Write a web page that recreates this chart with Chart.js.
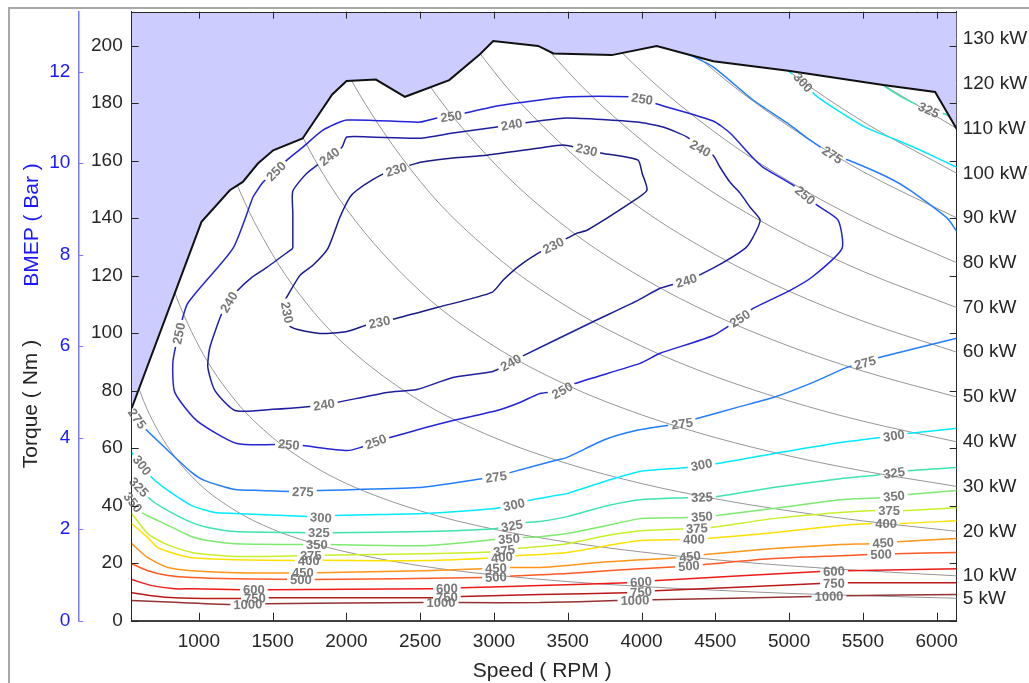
<!DOCTYPE html>
<html>
<head>
<meta charset="utf-8">
<script src="https://cdn.jsdelivr.net/npm/chart.js@4.4.0/dist/chart.umd.min.js"></script>
<style>
  html, body { margin: 0; padding: 0; background: #fff; }
  #wrap { position: relative; width: 1029px; height: 683px; }
</style>
</head>
<body>
<div id="wrap"><canvas id="mycanvas" width="1029" height="683"></canvas></div>
<script>
// axes
var speedMin = 545, speedMax = 6136;
var torqueMax = 211.8, bmepMax = 13.31;
var speedTicks = [1000, 1500, 2000, 2500, 3000, 3500, 4000, 4500, 5000, 5500, 6000];
var torqueTicks = [0, 20, 40, 60, 80, 100, 120, 140, 160, 180, 200];
var bmepTicks = [0, 2, 4, 6, 8, 10, 12];

// full load curve (rpm, Nm)
var fullLoad = [[545,73.9],[1018,138.7],[1210,149.7],[1298,152.6],[1400,159],[1504,163.6],[1703,167.7],[1904,183],[2001,187.7],[2200,188.2],[2397,182.2],[2697,188],[2905,197],[2995,201.6],[3300,199.9],[3403,197.3],[3798,196.7],[4103,199.9],[4487,194.6],[4995,191.3],[5639,186.3],[5990,183.9],[6136,171]];

// constant power lines
var powerKW = [5, 10, 20, 30, 40, 50, 60, 70, 80, 90, 100, 110, 120, 130];
var powerRpm = [550, 650, 800, 1000, 1250, 1500, 1750, 2000, 2500, 3000, 3500, 4000, 4500, 5000, 5500, 6136];
var powerTorque = [
  [86.8,73.5,59.7,47.7,38.2,31.8,27.3,23.9,19.1,15.9,13.6,11.9,10.6,9.5,8.7,7.8],
  [173.6,146.9,119.4,95.5,76.4,63.7,54.6,47.7,38.2,31.8,27.3,23.9,21.2,19.1,17.4,15.6],
  [null,293.8,238.7,191.0,152.8,127.3,109.1,95.5,76.4,63.7,54.6,47.7,42.4,38.2,34.7,31.1],
  [null,null,null,286.5,229.2,191.0,163.7,143.2,114.6,95.5,81.8,71.6,63.7,57.3,52.1,46.7],
  [null,null,null,null,null,254.6,218.3,191.0,152.8,127.3,109.1,95.5,84.9,76.4,69.4,62.2],
  [null,null,null,null,null,null,272.9,238.7,191.0,159.2,136.4,119.4,106.1,95.5,86.8,77.8],
  [null,null,null,null,null,null,null,286.5,229.2,191.0,163.7,143.2,127.3,114.6,104.2,93.4],
  [null,null,null,null,null,null,null,null,267.4,222.8,191.0,167.1,148.5,133.7,121.5,108.9],
  [null,null,null,null,null,null,null,null,305.6,254.6,218.2,191.0,169.8,152.8,138.9,124.5],
  [null,null,null,null,null,null,null,null,null,286.5,245.5,214.9,191.0,171.9,156.2,140.1],
  [null,null,null,null,null,null,null,null,null,null,272.8,238.7,212.2,191.0,173.6,155.6],
  [null,null,null,null,null,null,null,null,null,null,null,262.6,233.4,210.1,191.0,171.2],
  [null,null,null,null,null,null,null,null,null,null,null,null,254.6,229.2,208.3,186.8],
  [null,null,null,null,null,null,null,null,null,null,null,null,null,248.3,225.7,202.3]
];

// BSFC contours (rpm, Nm)
var c230 = [[1583,111.4],[1685,120.1],[1773,123.6],[1875,129.5],[1956,140.3],[2024,147.3],[2071,149.7],[2173,153.2],[2275,156.0],[2431,158.4],[2512,159.5],[2722,160.9],[2953,161.9],[3312,164.4],[3468,165.4],[3549,164.7],[3732,162.6],[3976,160.2],[4004,155.6],[4037,149.7],[3922,145.2],[3631,135.8],[3563,134.8],[3448,131.7],[3332,128.8],[3176,123.6],[3061,118.4],[2987,114.2],[2620,109.0],[2342,105.2],[2153,103.1],[2003,100.6],[1820,99.9],[1617,102.4],[1583,111.4]];
var c240 = [[1637,129.5],[1637,141.7],[1637,149.4],[1732,155.6],[1888,161.6],[1970,164.7],[2003,168.2],[2159,168.2],[2498,167.8],[2722,169.6],[3020,171.7],[3129,172.7],[3244,173.4],[3495,174.8],[3970,173.4],[4146,171.7],[4309,168.2],[4397,164.4],[4485,161.9],[4532,157.7],[4600,152.5],[4668,148.7],[4736,143.8],[4804,139.3],[4756,133.4],[4702,129.5],[4485,122.6],[4309,118.4],[4126,115.6],[3976,111.4],[3664,103.8],[3176,91.6],[3088,89.1],[2993,86.7],[2722,84.6],[2478,80.4],[2275,79.4],[1936,75.9],[1848,75.2],[1753,74.5],[1502,73.5],[1244,73.1],[1108,80.1],[1061,88.1],[1075,95.1],[1156,106.9],[1210,111.4],[1264,114.9],[1359,119.4],[1461,122.9],[1637,129.5]];
var c250 = [[1366,147.3],[1434,152.5],[1515,156.0],[1597,160.2],[1705,164.7],[1841,170.6],[2003,174.1],[2498,173.4],[2614,174.8],[2715,175.5],[3020,179.0],[3312,181.1],[3515,182.2],[3922,182.2],[4010,181.5],[4105,179.7],[4485,173.8],[4600,169.6],[4756,160.9],[4824,157.7],[5027,151.5],[5109,148.0],[5190,144.5],[5332,139.3],[5359,129.5],[5163,119.8],[5007,114.9],[4756,108.6],[4668,105.2],[4485,99.2],[4126,93.0],[3990,89.5],[3549,82.5],[3461,80.1],[3312,79.0],[3176,75.9],[3020,73.1],[2722,69.6],[2519,66.9],[2295,63.7],[2200,62.3],[2092,60.2],[2003,59.2],[1705,60.9],[1610,61.3],[1258,61.6],[986,69.6],[837,79.4],[824,89.8],[864,99.9],[925,110.4],[1231,129.5],[1366,147.3]];
var c275a = [[4300,197.5],[4485,192.6],[4756,181.1],[4987,173.1],[5143,167.1],[5299,161.9],[5400,160.2],[5665,154.3],[5821,149.7],[6072,140.0],[6136,135.4]];
var c275b = [[545,73.1],[593,69.6],[647,66.2],[790,59.2],[953,51.5],[1041,48.7],[1244,45.6],[1414,45.3],[1705,44.9],[1807,45.3],[2485,46.3],[2919,49.4],[3014,50.1],[3109,51.5],[3414,55.7],[3495,56.8],[3753,63.0],[3970,66.2],[4173,67.9],[4275,68.6],[4376,70.3],[4648,74.2],[4892,77.6],[5163,82.9],[5393,88.1],[5515,89.8],[5617,91.6],[5888,95.1],[6136,98.2]];
var c300a = [[4993,191.2],[5095,187.3],[5177,182.8],[5326,177.6],[5529,171.3],[5733,167.1],[5888,163.7],[6136,157.7]];
var c300b = [[545,58.5],[607,54.7],[681,49.8],[790,45.3],[953,40.0],[1108,37.6],[1244,37.3],[1739,36.2],[1827,35.9],[1922,36.6],[2532,37.3],[3007,39.0],[3136,40.4],[3231,41.8],[3414,43.5],[3495,44.2],[3766,48.7],[3990,51.9],[4309,53.3],[4410,54.3],[4512,54.7],[4892,58.1],[5346,62.0],[5617,63.7],[5712,64.4],[5800,65.1],[6136,66.9]];
var c325a = [[5644,185.9],[5773,181.8],[5949,177.6],[6058,176.2],[6092,175.1]];
var c325b = [[545,49.4],[586,47.0],[681,41.8],[790,38.3],[953,34.1],[1061,32.4],[1244,31.0],[1739,30.6],[1902,30.6],[2532,31.0],[3007,32.0],[3129,33.1],[3210,34.1],[3312,34.5],[3495,36.2],[3766,40.0],[3990,42.1],[4309,42.8],[4512,43.2],[4892,46.3],[5346,49.4],[5617,50.8],[5821,52.2],[6136,53.3]];
var c350 = [[545,41.8],[573,40.0],[614,37.6],[722,34.8],[837,32.0],[953,29.2],[1061,27.9],[1244,26.8],[1732,26.5],[1875,26.5],[2532,26.1],[3007,28.2],[3197,28.9],[3312,29.2],[3495,30.3],[3766,33.1],[3990,35.5],[4309,35.9],[4512,36.6],[4892,39.0],[5346,42.1],[5617,42.8],[5807,43.9],[6136,45.3]];
var c375 = [[545,37.3],[654,30.3],[769,26.8],[953,23.7],[1061,23.0],[1244,22.3],[1685,22.6],[1841,22.8],[2532,23.3],[3007,24.0],[3156,25.1],[3312,25.8],[3495,26.8],[3766,29.6],[3990,31.3],[4309,32.0],[4465,32.4],[4892,35.5],[5346,37.6],[5597,38.3],[5773,38.3],[6136,39.3]];
var c400 = [[545,33.8],[654,28.9],[722,25.4],[837,23.3],[953,21.9],[1244,21.2],[1671,20.9],[1834,21.0],[2532,20.9],[3007,21.9],[3142,22.6],[3312,23.0],[3495,23.7],[3766,26.1],[3990,27.9],[4261,28.2],[4444,28.6],[4892,30.6],[5346,33.1],[5570,33.8],[5753,33.8],[6136,34.8]];
var c450 = [[545,26.8],[654,21.9],[790,18.5],[953,17.4],[1244,16.7],[1800,16.7],[2532,17.4],[2919,18.1],[3122,18.5],[3312,18.5],[3495,19.2],[3766,20.5],[3990,21.2],[4241,21.9],[4431,23.0],[4892,25.1],[5346,26.5],[5549,26.8],[5739,27.5],[6136,28.6]];
var c500 = [[545,19.8],[654,17.4],[790,15.7],[953,15.0],[1244,14.6],[1786,14.3],[2919,15.0],[3095,15.5],[3312,16.0],[3495,16.4],[3766,17.4],[3990,18.1],[4241,18.8],[4417,19.5],[4892,21.6],[5346,22.6],[5536,23.0],[5719,23.3],[6136,23.7]];
var c600 = [[545,14.3],[681,12.2],[837,11.1],[953,11.1],[1292,10.8],[1468,10.8],[2580,11.1],[2783,11.5],[3312,12.2],[3902,13.2],[4078,13.9],[5210,17.1],[5400,17.4],[6136,18.1]];
var c750 = [[545,9.75],[681,8.7],[837,8.0],[1292,7.7],[1468,8.0],[2580,8.0],[2783,8.4],[3312,9.1],[3902,9.75],[4092,10.4],[5210,12.9],[5400,13.2],[6136,13.2]];
var c1000 = [[545,7.0],[871,6.3],[1244,5.6],[1447,5.9],[2532,6.3],[2756,6.3],[3312,6.3],[3834,7.0],[4078,7.3],[5163,8.4],[5380,8.7],[6136,9.1]];

// contour label anchors (rpm, Nm)
var lab230 = [[2342,156.2],[3627,163.5],[3407,130.1],[2227,103.1],[1597,107.2]];
var lab240 = [[1888,161.2],[3122,172.0],[4397,164.2],[4302,118.6],[3115,89.7],[1848,75.4],[1217,110.4]];
var lab250 = [[1529,156.0],[2709,175.5],[4004,181.4],[5109,148.0],[4668,105.0],[3461,80.3],[2200,62.2],[1610,61.3],[864,99.9]];
var lab275 = [[5292,161.9],[593,70.7],[1705,44.6],[3014,50.1],[4275,68.4],[5515,89.7]];
var lab300 = [[5095,187.2],[614,54.0],[1827,35.9],[3136,40.4],[4410,53.3],[5712,63.7]];
var lab325 = [[5949,177.8],[586,46.1],[1814,30.6],[3122,33.1],[4410,42.8],[5712,51.2]];
var lab350 = [[559,41.4],[1800,26.5],[3102,28.6],[4410,35.9],[5712,42.8]];
var lab375 = [[1759,23.0],[3068,24.7],[4376,31.3],[5678,37.4]];
var lab400 = [[1746,20.5],[3054,21.9],[4356,27.5],[5658,33.1]];
var lab450 = [[1705,16.7],[3014,18.1],[4329,21.9],[5638,27.0]];
var lab500 = [[1692,14.2],[3014,14.8],[4322,18.5],[5624,22.6]];
var lab600 = [[1373,10.4],[2681,11.1],[3997,13.1],[5305,16.5]];
var lab750 = [[1380,7.8],[2681,8.4],[3997,9.6],[5305,11.8]];
var lab1000 = [[1332,5.6],[2641,5.9],[3956,6.6],[5271,8.0]];

var contourPieces = [
  [230, c230], [240, c240], [250, c250], [275, c275a], [275, c275b],
  [300, c300a], [300, c300b], [325, c325a], [325, c325b], [350, c350],
  [375, c375], [400, c400], [450, c450], [500, c500], [600, c600], [750, c750], [1000, c1000]
];
var labelsByLevel = {230: lab230, 240: lab240, 250: lab250, 275: lab275, 300: lab300, 325: lab325, 350: lab350,
  375: lab375, 400: lab400, 450: lab450, 500: lab500, 600: lab600, 750: lab750, 1000: lab1000};
var contourColor = {230: 'rgb(25,25,135)', 240: 'rgb(30,30,160)', 250: 'rgb(35,35,215)', 275: 'rgb(35,125,255)',
  300: 'rgb(0,235,255)', 325: 'rgb(60,230,170)', 350: 'rgb(125,235,110)', 375: 'rgb(200,240,40)',
  400: 'rgb(255,225,0)', 450: 'rgb(255,150,25)', 500: 'rgb(255,90,35)', 600: 'rgb(240,25,25)',
  750: 'rgb(185,25,25)', 1000: 'rgb(150,50,50)'};

var FONT = '"Liberation Sans", Arial, Helvetica, sans-serif';
var labelFont = 'bold 13px ' + FONT;

function xy(pairs) {
  return pairs.map(function(p) { return {x: p[0], y: p[1]}; });
}

// where each contour label sits (snapped onto its line) and its angle
function levelLabels(chart, level) {
  var xs = chart.scales.x, ys = chart.scales.y, lines = [];
  chart.data.datasets.forEach(function(ds) {
    if (ds.level === level) {
      lines.push(ds.data.map(function(p) { return [xs.getPixelForValue(p.x), ys.getPixelForValue(p.y)]; }));
    }
  });
  var ctx = chart.ctx;
  ctx.save();
  ctx.font = labelFont;
  var w = ctx.measureText(String(level)).width;
  ctx.restore();
  return labelsByLevel[level].map(function(a) {
    var px = xs.getPixelForValue(a[0]), py = ys.getPixelForValue(a[1]);
    var best = Infinity, out = {x: px, y: py, a: 0};
    lines.forEach(function(l) {
      for (var i = 0; i < l.length - 1; i++) {
        var x1 = l[i][0], y1 = l[i][1], dx = l[i + 1][0] - x1, dy = l[i + 1][1] - y1;
        var L = dx * dx + dy * dy;
        var t = L ? ((px - x1) * dx + (py - y1) * dy) / L : 0;
        t = Math.max(0, Math.min(1, t));
        var qx = x1 + t * dx, qy = y1 + t * dy;
        var d = (qx - px) * (qx - px) + (qy - py) * (qy - py);
        if (d < best) { best = d; out = {x: qx, y: qy, a: Math.atan2(dy, dx)}; }
      }
    });
    if (out.a > Math.PI / 2) out.a -= Math.PI;
    if (out.a < -Math.PI / 2) out.a += Math.PI;
    out.w = w;
    return out;
  });
}

var contourLabelPlugin = {
  id: 'contourLabels',
  beforeDatasetDraw: function(chart, args) {
    var ds = chart.data.datasets[args.index];
    if (!ds.level) return;
    var ctx = chart.ctx;
    var labs = levelLabels(chart, ds.level);
    ctx.save();
    ctx.beginPath();
    ctx.rect(0, 0, chart.width, chart.height);
    labs.forEach(function(b) {
      var hw = b.w / 2 + 3, hh = 6.5, cs = Math.cos(b.a), sn = Math.sin(b.a);
      var pts = [[-hw, -hh], [hw, -hh], [hw, hh], [-hw, hh]];
      pts.forEach(function(p, i) {
        var X = b.x + p[0] * cs - p[1] * sn, Y = b.y + p[0] * sn + p[1] * cs;
        if (i === 0) ctx.moveTo(X, Y); else ctx.lineTo(X, Y);
      });
      ctx.closePath();
    });
    ctx.clip('evenodd');
  },
  afterDatasetDraw: function(chart, args) {
    var ds = chart.data.datasets[args.index];
    if (ds.level) chart.ctx.restore();
  },
  afterDatasetsDraw: function(chart) {
    var ctx = chart.ctx;
    ctx.save();
    ctx.font = labelFont;
    ctx.fillStyle = 'rgb(120,120,120)';
    ctx.textAlign = 'center';
    ctx.textBaseline = 'middle';
    Object.keys(labelsByLevel).forEach(function(k) {
      var level = Number(k);
      levelLabels(chart, level).forEach(function(b) {
        ctx.save();
        ctx.translate(b.x, b.y);
        ctx.rotate(b.a);
        ctx.fillText(String(level), 0, 1);
        ctx.restore();
      });
    });
    ctx.restore();
  }
};

var framePlugin = {
  id: 'frame',
  beforeDraw: function(chart) {
    var c = chart.ctx;
    c.save();
    c.fillStyle = '#fff';
    c.fillRect(0, 0, chart.width, chart.height);
    c.fillStyle = '#a8a8a8';
    c.fillRect(8, 7, chart.width - 8, 2);
    c.fillRect(8, 7, 2, chart.height - 7);
    c.restore();
  },
  afterDraw: function(chart) {
    var c = chart.ctx, a = chart.chartArea;
    var xs = chart.scales.x, ys = chart.scales.y, bs = chart.scales.bmep;
    c.save();
    c.strokeStyle = '#262626';
    c.lineWidth = 1;
    c.beginPath();
    c.moveTo(a.left, Math.round(a.top) + 0.5);
    c.lineTo(a.right, Math.round(a.top) + 0.5);
    speedTicks.forEach(function(v) {
      var x = Math.round(xs.getPixelForValue(v)) + 0.5;
      c.moveTo(x, a.top); c.lineTo(x, a.top + 7);
      c.moveTo(x, a.bottom); c.lineTo(x, a.bottom - 8);
    });
    torqueTicks.forEach(function(v) {
      var y = Math.round(ys.getPixelForValue(v)) + 0.5;
      c.moveTo(a.left, y); c.lineTo(a.left + 7, y);
      c.moveTo(a.right, y); c.lineTo(a.right - 7, y);
    });
    c.stroke();
    c.strokeStyle = 'rgb(120,120,255)';
    c.beginPath();
    bmepTicks.forEach(function(v) {
      var y = Math.round(bs.getPixelForValue(v)) + 0.5;
      c.moveTo(bs.right, y); c.lineTo(bs.right + 5, y);
    });
    c.stroke();

    c.font = '21px ' + FONT;
    c.textAlign = 'center';
    c.textBaseline = 'middle';
    c.fillStyle = '#262626';
    c.fillText('Speed ( RPM )', (a.left + a.right) / 2 - 2, a.bottom + 51);
    c.save();
    c.translate(31, 404);
    c.rotate(-Math.PI / 2);
    c.fillText('Torque ( Nm )', 0, 0);
    c.restore();
    c.save();
    c.fillStyle = 'rgb(25,25,255)';
    c.translate(32, 225);
    c.rotate(-Math.PI / 2);
    c.fillText('BMEP ( Bar )', 0, 0);
    c.restore();
    c.restore();
  }
};

var datasets = [];
datasets.push({
  label: 'full load',
  data: xy(fullLoad),
  showLine: true,
  borderColor: '#111',
  borderWidth: 2,
  backgroundColor: 'rgb(204,204,255)',
  fill: 'end',
  pointRadius: 0,
  tension: 0
});
contourPieces.forEach(function(p) {
  datasets.push({
    label: String(p[0]),
    level: p[0],
    data: xy(p[1]),
    showLine: true,
    borderColor: contourColor[p[0]],
    borderWidth: 1.5,
    pointRadius: 0,
    fill: false,
    tension: 0.2
  });
});
powerKW.forEach(function(kw, i) {
  var pts = [];
  powerRpm.forEach(function(n, j) {
    if (powerTorque[i][j] !== null) pts.push({x: n, y: powerTorque[i][j]});
  });
  datasets.push({
    label: kw + ' kW',
    data: pts,
    showLine: true,
    borderColor: 'rgb(150,150,150)',
    borderWidth: 1,
    pointRadius: 0,
    fill: false,
    cubicInterpolationMode: 'monotone'
  });
});

function lastValue(row) { return row[row.length - 1]; }

// keep label overhang from pushing the plot area around
function noPad(s) {
  s.paddingTop = 0; s.paddingBottom = 0; s.paddingLeft = 0; s.paddingRight = 0;
}

var tickFont = {size: 19, family: FONT};

var ctx = document.getElementById('mycanvas');
var chart = new Chart(ctx, {
  type: 'scatter',
  data: {datasets: datasets},
  plugins: [contourLabelPlugin, framePlugin],
  options: {
    responsive: false,
    animation: false,
    devicePixelRatio: 1,
    layout: {padding: {top: 11.7, left: 0, right: 0, bottom: 0}},
    plugins: {legend: {display: false}, tooltip: {enabled: false}},
    scales: {
      x: {
        type: 'linear', position: 'bottom', z: 1, min: speedMin, max: speedMax,
        afterBuildTicks: function(s) { s.ticks = speedTicks.map(function(v) { return {value: v}; }); },
        afterFit: function(s) { s.height = 62.3; noPad(s); },
        grid: {display: false, drawTicks: false},
        border: {display: true, color: '#404040', width: 2},
        ticks: {padding: 10, maxRotation: 0, autoSkip: false, color: '#262626', font: tickFont,
          callback: function(v) { return String(v); }}
      },
      y: {
        type: 'linear', position: 'left', weight: 0, z: 1, min: 0, max: torqueMax,
        afterBuildTicks: function(s) { s.ticks = torqueTicks.map(function(v) { return {value: v}; }); },
        afterFit: function(s) { s.width = 53.4; noPad(s); },
        grid: {display: false, drawTicks: false},
        border: {display: true, color: '#262626', width: 1},
        ticks: {padding: 9, autoSkip: false, color: '#262626', font: tickFont,
          callback: function(v) { return String(v); }}
      },
      bmep: {
        type: 'linear', position: 'left', weight: 1, z: 1, min: 0, max: bmepMax,
        afterBuildTicks: function(s) { s.ticks = bmepTicks.map(function(v) { return {value: v}; }); },
        afterFit: function(s) { s.width = 78.3; noPad(s); },
        grid: {display: false, drawTicks: false},
        border: {display: true, color: 'rgb(120,120,255)', width: 1.5},
        ticks: {padding: 8, autoSkip: false, color: 'rgb(25,25,255)', font: tickFont,
          callback: function(v) { return String(v); }}
      },
      yr: {
        type: 'linear', position: 'right', z: 1, min: 0, max: torqueMax,
        afterBuildTicks: function(s) {
          s.ticks = powerTorque.map(function(row) { return {value: lastValue(row)}; });
        },
        afterFit: function(s) { s.width = 72.3; noPad(s); },
        grid: {display: false, drawTicks: false},
        border: {display: true, color: '#262626', width: 1},
        ticks: {padding: 6, autoSkip: false, color: '#262626', font: tickFont,
          callback: function(v, i) { return powerKW[i] + ' kW'; }}
      }
    }
  }
});
</script>
</body>
</html>
